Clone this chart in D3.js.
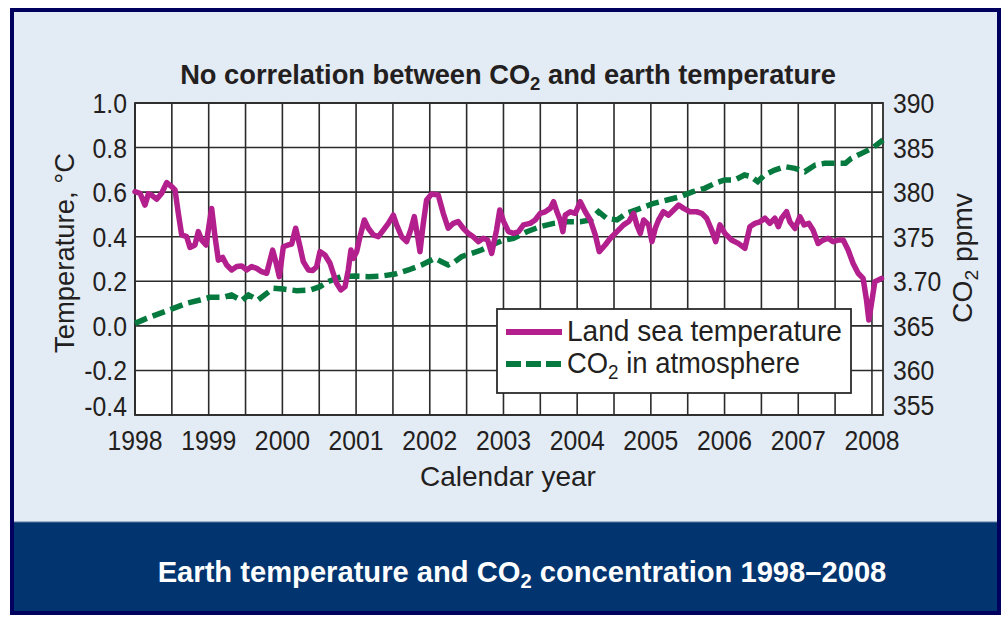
<!DOCTYPE html>
<html><head><meta charset="utf-8">
<script src="https://cdn.jsdelivr.net/npm/d3@7"></script>
<style>body{margin:0;background:#fff}svg{display:block}</style>
</head><body><svg id="c" width="1002" height="618"></svg>
<script>
// ---------- DATA ----------
const tempYears = [1998.000,1998.068,1998.136,1998.181,1998.226,1998.294,1998.362,1998.430,1998.497,1998.543,1998.588,1998.633,1998.701,1998.746,1998.814,1998.859,1998.905,1998.964,1999.040,1999.086,1999.131,1999.190,1999.244,1999.312,1999.380,1999.447,1999.515,1999.583,1999.651,1999.719,1999.787,1999.868,1999.922,1999.958,2000.013,2000.081,2000.126,2000.180,2000.239,2000.284,2000.352,2000.411,2000.465,2000.510,2000.578,2000.646,2000.690,2000.736,2000.794,2000.850,2000.894,2000.930,2000.963,2001.008,2001.053,2001.112,2001.166,2001.234,2001.302,2001.370,2001.438,2001.505,2001.550,2001.619,2001.686,2001.741,2001.790,2001.836,2001.867,2001.912,2001.957,2002.025,2002.115,2002.183,2002.250,2002.320,2002.386,2002.454,2002.522,2002.590,2002.658,2002.726,2002.785,2002.840,2002.906,2002.950,2003.000,2003.068,2003.136,2003.204,2003.272,2003.362,2003.430,2003.498,2003.566,2003.634,2003.680,2003.725,2003.770,2003.806,2003.838,2003.906,2003.974,2004.042,2004.110,2004.178,2004.246,2004.300,2004.380,2004.450,2004.540,2004.630,2004.700,2004.766,2004.810,2004.857,2004.902,2004.970,2005.015,2005.060,2005.105,2005.170,2005.240,2005.310,2005.377,2005.445,2005.530,2005.620,2005.689,2005.757,2005.825,2005.880,2005.937,2006.005,2006.095,2006.186,2006.276,2006.344,2006.412,2006.480,2006.548,2006.615,2006.683,2006.730,2006.774,2006.842,2006.887,2006.955,2007.023,2007.080,2007.144,2007.200,2007.270,2007.337,2007.405,2007.473,2007.540,2007.610,2007.677,2007.745,2007.813,2007.880,2007.926,2007.958,2007.994,2008.039,2008.130];
const tempValues = [0.602,0.595,0.542,0.592,0.587,0.568,0.595,0.643,0.625,0.610,0.505,0.408,0.400,0.352,0.363,0.423,0.385,0.363,0.527,0.400,0.295,0.307,0.273,0.251,0.266,0.269,0.251,0.266,0.258,0.243,0.236,0.340,0.273,0.221,0.355,0.363,0.367,0.438,0.355,0.288,0.251,0.248,0.266,0.333,0.318,0.281,0.236,0.191,0.161,0.176,0.251,0.340,0.303,0.333,0.400,0.475,0.438,0.408,0.400,0.430,0.460,0.497,0.453,0.400,0.378,0.430,0.490,0.400,0.333,0.460,0.565,0.592,0.587,0.505,0.438,0.460,0.468,0.438,0.415,0.400,0.378,0.393,0.385,0.325,0.430,0.520,0.470,0.423,0.415,0.423,0.453,0.460,0.475,0.505,0.512,0.527,0.557,0.512,0.475,0.423,0.497,0.512,0.505,0.557,0.512,0.475,0.408,0.333,0.363,0.393,0.423,0.453,0.468,0.505,0.453,0.415,0.475,0.453,0.378,0.438,0.475,0.512,0.497,0.520,0.542,0.527,0.512,0.512,0.505,0.483,0.430,0.378,0.453,0.415,0.385,0.370,0.348,0.445,0.460,0.467,0.483,0.460,0.483,0.445,0.483,0.512,0.467,0.437,0.490,0.453,0.460,0.430,0.370,0.385,0.393,0.378,0.385,0.385,0.340,0.280,0.236,0.213,0.116,0.026,0.101,0.198,0.213];
const co2Years = [1998.000,1998.158,1998.339,1998.520,1998.700,1998.883,1999.020,1999.200,1999.310,1999.447,1999.540,1999.670,1999.787,1999.878,2000.013,2000.194,2000.375,2000.510,2000.620,2000.800,2000.980,2001.166,2001.350,2001.530,2001.710,2001.890,2002.070,2002.160,2002.250,2002.340,2002.430,2002.570,2002.700,2002.840,2002.995,2003.136,2003.317,2003.498,2003.680,2003.860,2004.040,2004.180,2004.290,2004.400,2004.540,2004.670,2004.857,2005.040,2005.220,2005.400,2005.570,2005.730,2005.870,2006.000,2006.140,2006.270,2006.360,2006.450,2006.540,2006.680,2006.820,2006.955,2007.090,2007.230,2007.360,2007.500,2007.640,2007.720,2007.860,2008.000,2008.150];
const co2Values = [365.28,365.84,366.40,366.96,367.53,367.90,368.20,368.20,368.46,367.83,368.46,367.90,368.65,369.21,369.13,368.95,369.02,369.40,369.96,370.52,370.59,370.52,370.59,370.82,371.27,371.83,372.57,372.20,371.83,372.20,372.76,373.13,373.51,374.07,374.60,374.82,375.56,376.13,376.50,376.69,376.69,376.88,377.81,377.06,376.88,377.62,378.18,378.75,379.12,379.49,380.05,380.43,380.99,381.36,381.36,381.92,381.74,381.17,381.92,382.48,382.86,382.67,382.30,383.04,383.23,383.23,383.23,383.79,384.35,384.91,385.85];
const yearTicks = [1998,1999,2000,2001,2002,2003,2004,2005,2006,2007,2008];
const tempTicks = [1.0,0.8,0.6,0.4,0.2,0.0,-0.2,-0.4];
const tempTickLabels = ["1.0","0.8","0.6","0.4","0.2","0.0","-0.2","-0.4"];
const co2Ticks = [390,385,380,375,370,365,360,355];
const co2TickLabels = ["390","385","380","375","3.70","365","360","355"];
const seriesNames = ["Land sea temperature","CO2 in atmosphere"];

// ---------- LAYOUT ----------
const FONT = "'Liberation Sans', Arial, Helvetica, sans-serif";
const ink = "#231f20";
const magenta = "#b31f8d";
const green = "#067a3e";
const grid = "#2b2b2b";
const L = 135, R = 883, T = 103, B = 415;

const svg = d3.select("#c");
svg.append("rect").attr("width",1002).attr("height",618).attr("fill","#fff");
svg.append("rect").attr("x",12).attr("y",10).attr("width",987).attr("height",603)
  .attr("fill","#e3ebf5");
svg.append("rect").attr("x",12).attr("y",522).attr("width",987).attr("height",91)
  .attr("fill","#023470");
svg.append("line").attr("x1",12).attr("x2",999).attr("y1",522).attr("y2",522)
  .attr("stroke","#5a78a0").attr("stroke-width",1);
svg.append("rect").attr("x",12).attr("y",10).attr("width",987).attr("height",603)
  .attr("fill","none").attr("stroke","#00005e").attr("stroke-width",4);

const x = d3.scaleLinear().domain([1998, 2008.15]).range([L, R]);
const yT = d3.scaleLinear().domain([-0.4, 1.0]).range([B, T]);
const yC = d3.scaleLinear().domain([355, 390]).range([B, T]);

function fit(sel, w, ax) {
  const n = sel.node();
  const cw = n.getComputedTextLength();
  const s = w / cw;
  sel.attr("transform", `translate(${ax},0) scale(${s},1) translate(${-ax},0)`);
}
function withSub(sel, before, sub, after, subSize, dy) {
  sel.append("tspan").text(before);
  sel.append("tspan").attr("dy", dy).attr("font-size", subSize).text(sub);
  sel.append("tspan").attr("dy", -dy).text(after);
}

svg.append("rect").attr("x",L).attr("y",T).attr("width",R-L).attr("height",B-T).attr("fill","#fff");

const halfYears = d3.range(1998, 2008.01, 0.5);
svg.append("g").selectAll("line").data(halfYears).join("line")
  .attr("x1", d => x(d)).attr("x2", d => x(d)).attr("y1", T).attr("y2", B)
  .attr("stroke", grid).attr("stroke-width", 1.6);
svg.append("g").selectAll("line").data(tempTicks).join("line")
  .attr("x1", L).attr("x2", R).attr("y1", d => yT(d)).attr("y2", d => yT(d))
  .attr("stroke", grid).attr("stroke-width", 1.6);
svg.append("rect").attr("x",L).attr("y",T).attr("width",R-L).attr("height",B-T)
  .attr("fill","none").attr("stroke",grid).attr("stroke-width",1.8);

const tempData = tempYears.map((d,i) => [d, tempValues[i]]);
const co2Data = co2Years.map((d,i) => [d, co2Values[i]]);
svg.append("path").datum(co2Data)
  .attr("d", d3.line().x(d => x(d[0])).y(d => yC(d[1])))
  .attr("fill","none").attr("stroke",green).attr("stroke-width",5.5)
  .attr("stroke-dasharray","13,6");
svg.append("path").datum(tempData)
  .attr("d", d3.line().x(d => x(d[0])).y(d => yT(d[1])))
  .attr("fill","none").attr("stroke",magenta).attr("stroke-width",5.5)
  .attr("stroke-linejoin","round").attr("stroke-linecap","round");

function tickText(g, txt, xx, yy, anchor, w) {
  const t = g.append("text").attr("x", xx).attr("y", yy).attr("text-anchor", anchor)
    .attr("font-family", FONT).attr("font-size", 27.5).attr("fill", ink).text(txt);
  t.attr("transform", `translate(${xx},0) scale(0.9,1) translate(${-xx},0)`);
}
const gLeft = svg.append("g");
tempTicks.forEach((d,i) => tickText(gLeft, tempTickLabels[i], 127, Math.min(yT(d), B - 9) + 10, "end"));
const gRight = svg.append("g");
co2Ticks.forEach((d,i) => tickText(gRight, co2TickLabels[i], 893, Math.min(yC(d), B - 10) + 10, "start"));
const gBottom = svg.append("g");
yearTicks.forEach(d => tickText(gBottom, String(d), x(d), 450, "middle"));

const xt = svg.append("text").attr("x",508).attr("y",486).attr("text-anchor","middle")
  .attr("font-family",FONT).attr("font-size",28.5).attr("fill",ink).text("Calendar year");
fit(xt, 176, 508);

const gl = svg.append("g").attr("transform","translate(74,253) rotate(-90)");
const ylt = gl.append("text").attr("x",0).attr("y",0).attr("text-anchor","middle")
  .attr("font-family",FONT).attr("font-size",28).attr("fill",ink).text("Temperature, °C");
fit(ylt, 200, 0);

const gr = svg.append("g").attr("transform","translate(972,258) rotate(-90)");
const yrt = gr.append("text").attr("x",0).attr("y",0).attr("text-anchor","middle")
  .attr("font-family",FONT).attr("font-size",28).attr("fill",ink);
withSub(yrt, "CO", "2", " ppmv", 19, 6);
fit(yrt, 130, 0);

const tt = svg.append("text").attr("x",508).attr("y",84).attr("text-anchor","middle")
  .attr("font-family",FONT).attr("font-size",28).attr("font-weight","bold").attr("fill",ink);
withSub(tt, "No correlation between CO", "2", " and earth temperature", 19, 6);
fit(tt, 656, 508);

svg.append("rect").attr("x",497).attr("y",309).attr("width",354).attr("height",84)
  .attr("fill","#fff").attr("stroke",grid).attr("stroke-width",1.8);
svg.append("line").attr("x1",506).attr("x2",562).attr("y1",332).attr("y2",332)
  .attr("stroke",magenta).attr("stroke-width",6);
svg.append("line").attr("x1",506).attr("x2",562).attr("y1",364).attr("y2",364)
  .attr("stroke",green).attr("stroke-width",6).attr("stroke-dasharray","15,5");
const l1 = svg.append("text").attr("x",567).attr("y",341.5).attr("font-family",FONT)
  .attr("font-size",29).attr("fill",ink).text(seriesNames[0]);
fit(l1, 275, 567);
const l2 = svg.append("text").attr("x",567).attr("y",373).attr("font-family",FONT)
  .attr("font-size",29).attr("fill",ink);
withSub(l2, "CO", "2", " in atmosphere", 20, 6);
fit(l2, 233, 567);

const bt = svg.append("text").attr("x",522).attr("y",582).attr("text-anchor","middle")
  .attr("font-family",FONT).attr("font-size",29).attr("font-weight","bold").attr("fill","#fff");
withSub(bt, "Earth temperature and CO", "2", " concentration 1998–2008", 20, 6);
fit(bt, 729, 522);
</script></body></html>
